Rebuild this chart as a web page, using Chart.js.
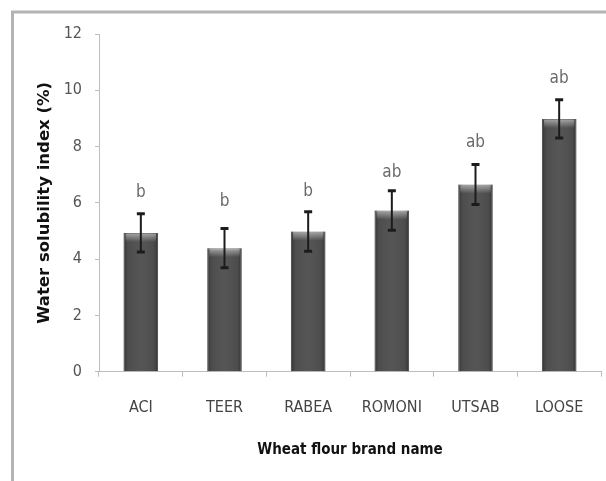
<!DOCTYPE html>
<html><head><meta charset="utf-8">
<script src="https://cdn.jsdelivr.net/npm/chart.js@4.4.0/dist/chart.umd.min.js"></script>
<style>html,body{margin:0;padding:0;background:#fff;overflow:hidden}#wrap{width:606px;height:481px;position:relative}</style>
</head><body><div id="wrap"><canvas id="c" width="606" height="481"></canvas></div>
<script>
const categories = ['ACI', 'TEER', 'RABEA', 'ROMONI', 'UTSAB', 'LOOSE'];
const wsiValues = [4.93, 4.39, 4.98, 5.73, 6.65, 8.98];
const wsiErrors = [0.68, 0.70, 0.70, 0.70, 0.71, 0.68];
const groupLetters = ['b', 'b', 'b', 'ab', 'ab', 'ab'];
const letterPositions = [6.37, 6.05, 6.41, 7.08, 8.13, 10.41];
const yTickValues = [0, 2, 4, 6, 8, 10, 12];
const xTitle = 'Wheat flour brand name';
const yTitle = 'Water solubility index (%)';

const NARROW = '"Liberation Sans Narrow", "DejaVu Sans Condensed", sans-serif';

const framePlugin = {
  id: 'frame',
  beforeDraw(chart) {
    const ctx = chart.ctx;
    ctx.save();
    ctx.fillStyle = '#ffffff';
    ctx.fillRect(0, 0, chart.width, chart.height);
    ctx.strokeStyle = '#b4b4b4';
    ctx.lineWidth = 3;
    ctx.beginPath();
    ctx.moveTo(12.5, chart.height);
    ctx.lineTo(12.5, 12);
    ctx.lineTo(chart.width, 12);
    ctx.stroke();
    ctx.restore();
  }
};

const barDecor = {
  id: 'barDecor',
  afterDatasetsDraw(chart) {
    const ctx = chart.ctx;
    const meta = chart.getDatasetMeta(0);
    const yScale = chart.scales.y;
    ctx.save();
    meta.data.forEach((bar, i) => {
      const left = bar.x - bar.width / 2;
      const w = bar.width;
      const top = bar.y;
      const h = bar.base - bar.y;
      const g = ctx.createLinearGradient(left, 0, left + w, 0);
      g.addColorStop(0, 'rgba(0,0,0,0.35)');
      g.addColorStop(0.12, 'rgba(0,0,0,0.05)');
      g.addColorStop(0.5, 'rgba(255,255,255,0.03)');
      g.addColorStop(0.88, 'rgba(0,0,0,0.05)');
      g.addColorStop(1, 'rgba(0,0,0,0.35)');
      ctx.fillStyle = g;
      ctx.fillRect(left, top, w, h);
      const hg = ctx.createLinearGradient(0, top, 0, top + 9);
      hg.addColorStop(0, 'rgba(255,255,255,0.5)');
      hg.addColorStop(1, 'rgba(255,255,255,0)');
      ctx.fillStyle = hg;
      ctx.fillRect(left + 2, top + 1, w - 4, 9);
      const xc = bar.x;
      const yHi = yScale.getPixelForValue(wsiValues[i] + wsiErrors[i]);
      const yLo = yScale.getPixelForValue(wsiValues[i] - wsiErrors[i]);
      ctx.strokeStyle = '#1c1c1c';
      ctx.lineWidth = 2;
      ctx.beginPath();
      ctx.moveTo(xc, yHi);
      ctx.lineTo(xc, yLo);
      ctx.stroke();
      ctx.lineWidth = 3;
      ctx.beginPath();
      ctx.moveTo(xc - 4, yHi);
      ctx.lineTo(xc + 4, yHi);
      ctx.moveTo(xc - 4, yLo);
      ctx.lineTo(xc + 4, yLo);
      ctx.stroke();
      ctx.fillStyle = '#6a6a6a';
      ctx.font = '17px ' + NARROW;
      ctx.textAlign = 'center';
      ctx.textBaseline = 'middle';
      ctx.fillText(groupLetters[i], xc, yScale.getPixelForValue(letterPositions[i]));
    });
    ctx.restore();
  }
};

new Chart(document.getElementById('c'), {
  type: 'bar',
  data: {
    labels: categories,
    datasets: [{
      data: wsiValues,
      backgroundColor: '#505050',
      borderColor: '#7a7a7a',
      borderWidth: 1,
      categoryPercentage: 1,
      barPercentage: 0.412
    }]
  },
  options: {
    responsive: false,
    animation: false,
    devicePixelRatio: 1,
    layout: { padding: { left: 30, top: 34, right: 5, bottom: 0 } },
    plugins: { legend: { display: false }, tooltip: { enabled: false } },
    scales: {
      x: {
        offset: true,
        grid: { display: true, drawOnChartArea: false, drawTicks: true, tickLength: 5, offset: true, color: '#bdbdbd' },
        border: { display: true, color: '#bdbdbd', width: 1 },
        ticks: { color: '#444', font: { family: NARROW, size: 16 }, padding: 22, maxRotation: 0, autoSkip: false },
        title: { display: true, text: xTitle, color: '#111', font: { family: NARROW, size: 15, weight: 'bold' }, padding: { top: 0, bottom: 22 } },
        afterFit(s) { s.height = 109.3; }
      },
      y: {
        min: 0, max: 12,
        afterBuildTicks(s) { s.ticks = yTickValues.map(v => ({ value: v })); },
        grid: { display: true, drawOnChartArea: false, drawTicks: true, tickLength: 4, color: '#bdbdbd' },
        border: { display: true, color: '#bdbdbd', width: 1 },
        ticks: { color: '#555', font: { family: NARROW, size: 16 }, padding: 13 },
        title: { display: true, text: yTitle, color: '#111', font: { family: '"DejaVu Sans", sans-serif', size: 16.5, weight: 'bold' }, padding: { top: 5, bottom: 0 } },
        afterFit(s) { s.width = 69; }
      }
    }
  },
  plugins: [framePlugin, barDecor]
});
</script>
</body></html>
